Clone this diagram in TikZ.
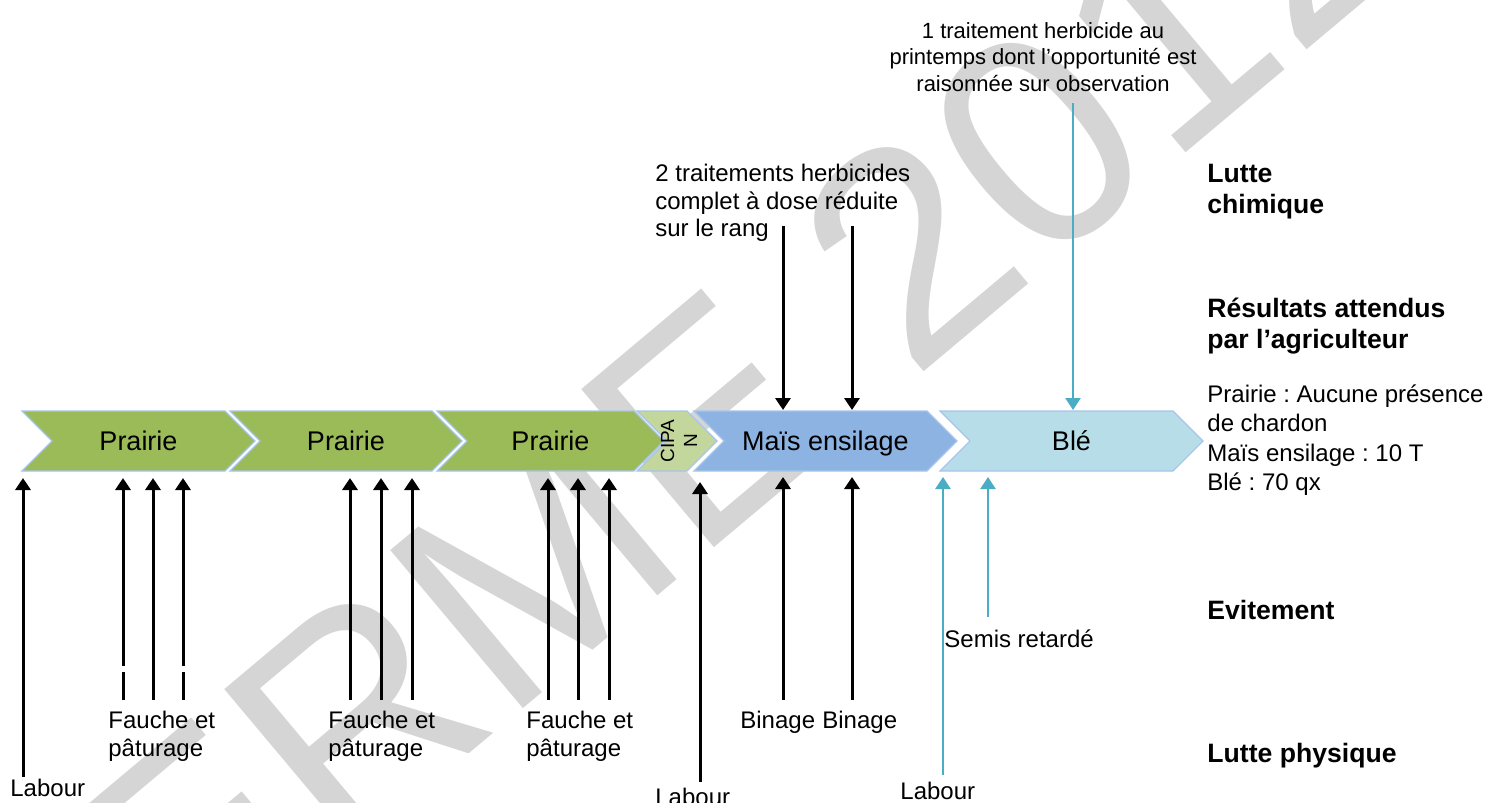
\documentclass[tikz,border=0pt]{standalone}
\usepackage{fontspec}
\setmainfont{Liberation Sans}
\usetikzlibrary{arrows.meta}
\frenchspacing
\definecolor{prairie}{HTML}{9BBB59}
\definecolor{cipan}{HTML}{C3D69B}
\definecolor{mais}{HTML}{8DB3E2}
\definecolor{ble}{HTML}{B7DEE8}
\definecolor{cbord}{HTML}{A7C5EA}
\definecolor{tealc}{HTML}{4BACC6}
\definecolor{wmgray}{HTML}{D5D5D5}
\tikzset{
  chev/.style={draw=cbord, line width=0.6pt, line join=miter},
  chevtxt/.style={font=\fontsize{13.5}{15}\selectfont, inner sep=0pt, anchor=base},
  blk/.style={line width=1.5pt, -{Triangle[width=7.5pt,length=6pt]}},
  tl/.style={draw=tealc, line width=1.3pt, -{Triangle[width=7.5pt,length=6pt]}},
  lbl/.style={font=\fontsize{12}{13.8}\selectfont, inner sep=0pt, align=left, anchor=north west},
  hdr/.style={font=\bfseries\fontsize{13.3}{15.2}\selectfont, inner sep=0pt, align=left, anchor=north west},
  wmark/.style={text=wmgray, font=\fontsize{150}{150}\selectfont, inner sep=0pt}
}
\newcommand\mychev[4]{%
  \path[chev, fill=#3] (#1,411) -- ({#2-30},411) -- (#2,441) -- ({#2-30},471) -- (#1,471) -- ({#1+30},441) -- cycle;
  \coordinate (#4) at ({(#1+#2)/2},450);}
\begin{document}
\begin{tikzpicture}[x=0.5pt,y=-0.5pt]
\useasboundingbox (0,0) rectangle (1485,803);
\begin{scope}
  \clip (0,0) rectangle (1485,803);
  \node[wmark, rotate=40] (wm) at (668,452) {FERME 2012};
\end{scope}

% chevrons
\mychev{22}{255}{prairie}{c1}
\mychev{230}{462}{prairie}{c2}
\mychev{437}{664}{prairie}{c3}
\mychev{637}{717}{cipan}{c4}
\mychev{694}{957}{mais}{c5}
\mychev{940}{1203}{ble}{c6}
\node[chevtxt] (t1) at (c1) {Prairie};
\node[chevtxt] (t2) at (c2) {Prairie};
\node[chevtxt] (t3) at (c3) {Prairie};
\node[font=\fontsize{9.5}{11.5}\selectfont, inner sep=0pt, align=center, rotate=90] (t4) at (679,441) {CIPA\\N};
\node[chevtxt] (t5) at (c5) {Maïs ensilage};
\node[chevtxt] (t6) at (c6) {Blé};

% black arrows from below
\foreach \n/\x/\yb/\yt in {la1/23/777/478, f1/123/700/478, f2/153/700/478, f3/183/700/478,
  f4/350/700/478, f5/381/700/478, f6/412/700/478,
  f7/548/700/478, f8/578/700/478, f9/609/700/478,
  la2/700/782/482, b1/783/700/477, b2/852/700/477}{
  \coordinate (\n s) at (\x,\yb);
  \coordinate (\n e) at (\x,\yt);
  \draw[blk] (\n s) -- (\n e);
}
% small gaps in two lines
\fill[white] (120,666) rectangle (126,672);
\fill[white] (180,666) rectangle (186,672);

% black arrows from above
\coordinate (h1s) at (783,226); \coordinate (h1e) at (783,410);
\coordinate (h2s) at (852,226); \coordinate (h2e) at (852,410);
\draw[blk] (h1s) -- (h1e);
\draw[blk] (h2s) -- (h2e);

% teal arrows
\coordinate (la3s) at (943,775); \coordinate (la3e) at (943,477);
\coordinate (srs) at (988,617); \coordinate (sre) at (988,477);
\coordinate (hts) at (1073,103); \coordinate (hte) at (1073,410);
\draw[tl] (la3s) -- (la3e);
\draw[tl] (srs) -- (sre);
\draw[tl] (hts) -- (hte);

% labels
\node[lbl] (lab1) at (10,779) {Labour};
\node[lbl] (fp1) at (108,711) {Fauche et\\pâturage};
\node[lbl] (fp2) at (328,711) {Fauche et\\pâturage};
\node[lbl] (fp3) at (526,711) {Fauche et\\pâturage};
\node[lbl] (lab2) at (655,788) {Labour};
\node[lbl] (bin1) at (740,711) {Binage};
\node[lbl] (bin2) at (822,711) {Binage};
\node[lbl] (lab3) at (900,782) {Labour};
\node[lbl] (semis) at (944,629) {Semis retardé};
\node[lbl] (trt2) at (655,164) {2 traitements herbicides\\complet à dose réduite\\sur le rang};
\node[lbl, align=center, anchor=north, font=\fontsize{11}{13.3}\selectfont] (trt1) at (1043,22) {1 traitement herbicide au\\printemps dont l’opportunité est\\raisonnée sur observation};

% right column
\node[hdr] (h1) at (1207,164) {Lutte\\chimique};
\node[hdr] (h2) at (1207,298) {Résultats attendus\\par l’agriculteur};
\node[lbl, font=\fontsize{12}{14.8}\selectfont] (res) at (1207,384) {Prairie : Aucune présence\\de chardon\\Maïs ensilage : 10 T\\Blé : 70 qx};
\node[hdr] (h3) at (1207,600) {Evitement};
\node[hdr] (h4) at (1207,743) {Lutte physique};
\end{tikzpicture}
\end{document}
